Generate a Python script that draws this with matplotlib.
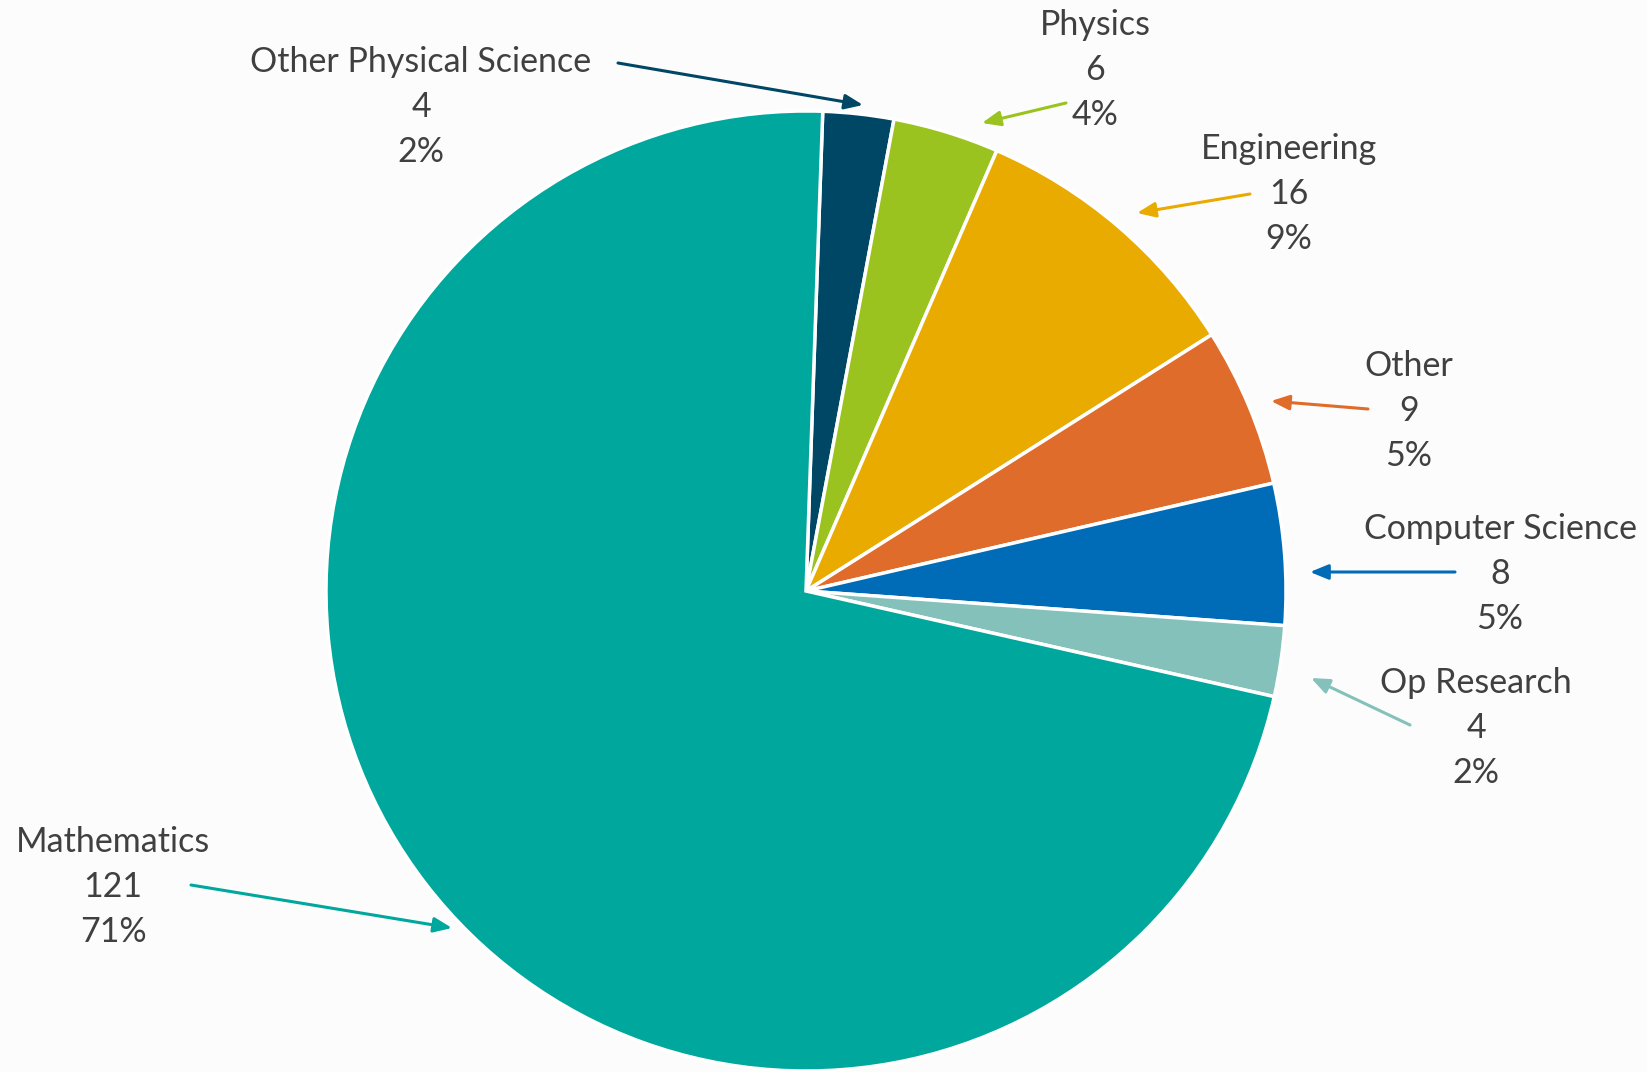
import matplotlib
matplotlib.use("Agg")
import matplotlib.pyplot as plt

categories = ["Other Physical Science", "Physics", "Engineering", "Other",
              "Computer Science", "Op Research", "Mathematics"]
counts = [4, 6, 16, 9, 8, 4, 121]
pct_labels = ["2%", "4%", "9%", "5%", "5%", "2%", "71%"]

colors = ["#004766", "#9BC31F", "#EAAB00", "#E06C2B", "#006BB6", "#85C1BB", "#00A79D"]

W, H = 1647, 1072
BG = "#FCFCFC"
TEXT = "#404040"

# layout (pixel positions measured from top-left): text centre x, first-line y, arrow start, arrow end
layout = {
    "Other Physical Science": ((421, 62), (618, 63), (863, 105)),
    "Physics": ((1095, 25), (1066, 103), (982, 123)),
    "Engineering": ((1289, 149), (1250, 194), (1137, 213)),
    "Other": ((1409, 366), (1368, 409), (1271, 401)),
    "Computer Science": ((1500, 529), (1455, 572), (1310, 572)),
    "Op Research": ((1476, 683), (1410, 725), (1311, 678)),
    "Mathematics": ((113, 842), (191, 885), (452, 928)),
}

fig = plt.figure(figsize=(W / 100, H / 100), dpi=100, facecolor=BG)
ax = fig.add_axes([0, 0, 1, 1])
ax.set_facecolor(BG)

ax.pie(counts, colors=colors, startangle=88, counterclock=False,
       center=(806, H - 591), radius=480,
       wedgeprops=dict(edgecolor="white", linewidth=2.5), frame=True)
ax.set_xlim(0, W)
ax.set_ylim(0, H)
ax.set_aspect("equal")
ax.axis("off")

line_gap = 45
for cat, cnt, pct, col in zip(categories, counts, pct_labels, colors):
    (tx, ty), (sx, sy), (ex, ey) = layout[cat]
    for i, s in enumerate([cat, str(cnt), pct]):
        ax.text(tx, H - (ty + i * line_gap), s, ha="center", va="center",
                fontsize=24.5, color=TEXT, family="Lato")
    ax.annotate("", xy=(ex, H - ey), xytext=(sx, H - sy),
                arrowprops=dict(arrowstyle="-|>,head_length=1.1,head_width=0.45",
                                color=col, lw=2.2, shrinkA=0, shrinkB=0))

fig.savefig("out.png", dpi=100, facecolor=BG)
